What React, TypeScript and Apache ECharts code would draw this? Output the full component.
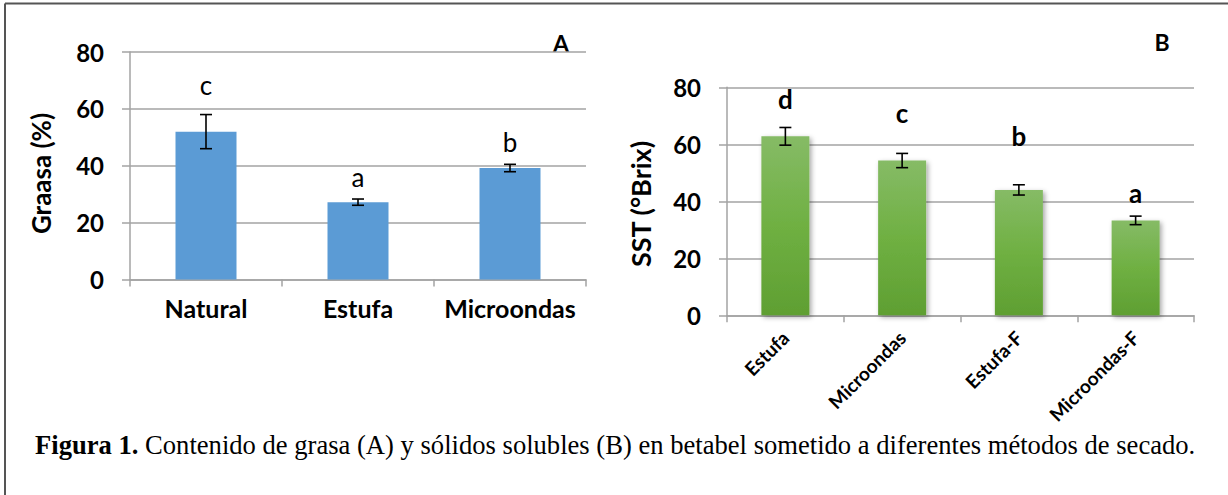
import React, { useEffect, useRef } from "react";
import * as echarts from "echarts";

// Panel A – fat content
const catsA = ["Natural", "Estufa", "Microondas"];
const valsA = [52, 27.2, 39.2];
const errA = [6, 1.1, 1.3];
const lettersA = ["c", "a", "b"];
const letterPosA = [68.4, 36.1, 48.4];

// Panel B – soluble solids
const catsB = ["Estufa", "Microondas", "Estufa-F", "Microondas-F"];
const valsB = [62.8, 54.3, 44.0, 33.3];
const errB = [3.1, 2.5, 1.8, 1.5];
const lettersB = ["d", "c", "b", "a"];
const letterPosB = [76.0, 71.1, 62.9, 42.8];

const yTicks = [0, 20, 40, 60, 80];

const FONT = "Lato";
const GRID_COLOR = "#a3a3a3";

function errSeries(
  idx: number,
  vals: number[],
  errs: number[],
  letters: string[],
  letterPos: number[],
  letterWeight: string
) {
  return {
    type: "custom",
    xAxisIndex: idx,
    yAxisIndex: idx,
    z: 5,
    data: vals.map((v, i) => [i, v - errs[i], v + errs[i], letterPos[i]]),
    encode: { x: 0, y: [1, 2, 3] },
    renderItem: (params: any, api: any) => {
      const x = api.value(0);
      const lo = api.coord([x, api.value(1)]);
      const hi = api.coord([x, api.value(2)]);
      const lp = api.coord([x, api.value(3)]);
      const half = 6;
      const st = { stroke: "#000", lineWidth: 1.6 };
      return {
        type: "group",
        children: [
          { type: "line", shape: { x1: hi[0], y1: hi[1], x2: lo[0], y2: lo[1] }, style: st },
          { type: "line", shape: { x1: hi[0] - half, y1: hi[1], x2: hi[0] + half, y2: hi[1] }, style: st },
          { type: "line", shape: { x1: lo[0] - half, y1: lo[1], x2: lo[0] + half, y2: lo[1] }, style: st },
          {
            type: "text",
            x: lp[0],
            y: lp[1],
            style: {
              text: letters[params.dataIndex],
              fontFamily: FONT,
              fontSize: 26,
              fontWeight: letterWeight,
              fill: "#000",
              align: "center",
              verticalAlign: "middle",
            },
          },
        ],
      };
    },
  };
}

function yAxis(idx: number) {
  return {
    type: "value",
    gridIndex: idx,
    min: yTicks[0],
    max: yTicks[yTicks.length - 1],
    interval: yTicks[1] - yTicks[0],
    axisLine: { show: true, lineStyle: { color: GRID_COLOR, width: 1.5 } },
    axisTick: { show: true, length: 8, lineStyle: { color: GRID_COLOR, width: 1.5 } },
    splitLine: { show: true, lineStyle: { color: GRID_COLOR, width: 1.5 } },
    axisLabel: {
      margin: 26,
      fontFamily: FONT,
      fontWeight: "bold",
      fontSize: 24,
      color: "#000",
    },
  };
}

export default function App() {
  const ref = useRef<HTMLDivElement>(null);

  useEffect(() => {
    document.body.style.margin = "0";
    if (!ref.current) return;
    const chart = echarts.init(ref.current, undefined, { renderer: "svg" });
    const option: any = {
      animation: false,
      backgroundColor: "#fff",
      grid: [
        { left: 130, top: 52, right: 642, bottom: 215.5, containLabel: false },
        { left: 727, top: 87.3, right: 34, bottom: 179.7, containLabel: false },
      ],
      xAxis: [
        {
          type: "category",
          gridIndex: 0,
          data: catsA,
          axisLine: { show: true, lineStyle: { color: GRID_COLOR, width: 1.5 } },
          axisTick: { show: true, length: 7, lineStyle: { color: GRID_COLOR, width: 1.5 } },
          axisLabel: {
            interval: 0,
            margin: 16,
            fontFamily: FONT,
            fontWeight: "bold",
            fontSize: 25,
            color: "#000",
          },
        },
        {
          type: "category",
          gridIndex: 1,
          data: catsB,
          axisLine: { show: true, lineStyle: { color: GRID_COLOR, width: 1.5 } },
          axisTick: { show: true, length: 7, lineStyle: { color: GRID_COLOR, width: 1.5 } },
          axisLabel: {
            interval: 0,
            rotate: 45,
            margin: 19,
            fontFamily: FONT,
            fontWeight: "bold",
            fontSize: 19,
            color: "#000",
          },
        },
      ],
      yAxis: [yAxis(0), yAxis(1)],
      series: [
        {
          type: "bar",
          xAxisIndex: 0,
          yAxisIndex: 0,
          data: valsA,
          barWidth: 61,
          itemStyle: { color: "#5b9bd5" },
        },
        errSeries(0, valsA, errA, lettersA, letterPosA, "normal"),
        {
          type: "bar",
          xAxisIndex: 1,
          yAxisIndex: 1,
          data: valsB,
          barWidth: 48,
          itemStyle: {
            color: new echarts.graphic.LinearGradient(0, 0, 0, 1, [
              { offset: 0, color: "#86bb66" },
              { offset: 0.5, color: "#6fb042" },
              { offset: 1, color: "#5f9f32" },
            ]),
            shadowColor: "rgba(0,0,0,0.35)",
            shadowBlur: 5,
            shadowOffsetX: 2,
            shadowOffsetY: 2,
          },
        },
        errSeries(1, valsB, errB, lettersB, letterPosB, "bold"),
      ],
      graphic: [
        { type: "line", shape: { x1: 5, y1: 3.5, x2: 1228, y2: 3.5 }, style: { stroke: "#555", lineWidth: 2 } },
        { type: "line", shape: { x1: 5, y1: 3.5, x2: 5, y2: 495 }, style: { stroke: "#555", lineWidth: 2 } },
        {
          type: "text",
          x: 561,
          y: 43,
          style: { text: "A", fontFamily: FONT, fontWeight: "bold", fontSize: 23, fill: "#000", align: "center", verticalAlign: "middle" },
        },
        {
          type: "text",
          x: 1162,
          y: 42,
          style: { text: "B", fontFamily: FONT, fontWeight: "bold", fontSize: 23, fill: "#000", align: "center", verticalAlign: "middle" },
        },
        {
          type: "text",
          x: 41,
          y: 173.5,
          rotation: Math.PI / 2,
          style: { text: "Graasa (%)", fontFamily: FONT, fontWeight: "bold", fontSize: 26, fill: "#000", align: "center", verticalAlign: "middle" },
        },
        {
          type: "text",
          x: 640,
          y: 204,
          rotation: Math.PI / 2,
          style: { text: "SST (°Brix)", fontFamily: FONT, fontWeight: "bold", fontSize: 27, fill: "#000", align: "center", verticalAlign: "middle" },
        },
        {
          type: "text",
          x: 35,
          y: 445,
          style: {
            text: "{b|Figura 1.} Contenido de grasa (A) y sólidos solubles (B) en betabel sometido a diferentes métodos de secado.",
            fontFamily: "Liberation Serif",
            fontSize: 26.6,
            fill: "#000",
            verticalAlign: "middle",
            rich: { b: { fontFamily: "Liberation Serif", fontSize: 26.6, fontWeight: "bold", fill: "#000" } },
          },
        },
      ],
    };
    chart.setOption(option);
    return () => chart.dispose();
  }, []);

  return <div ref={ref} style={{ width: 1228, height: 495 }} />;
}
